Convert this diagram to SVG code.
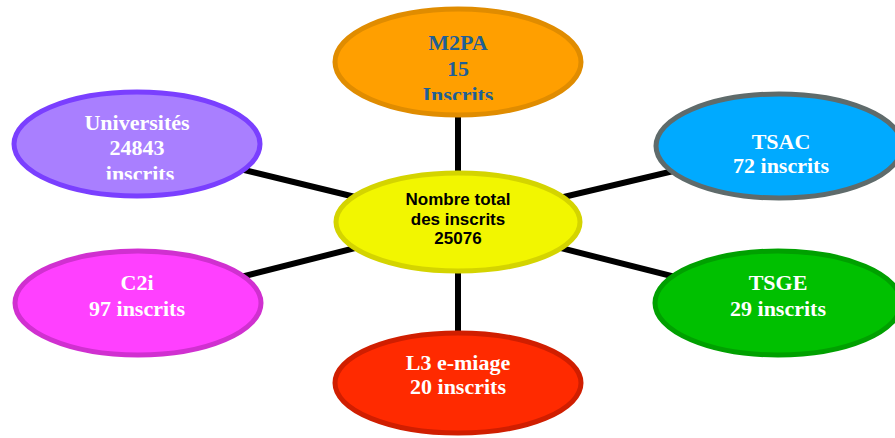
<svg xmlns="http://www.w3.org/2000/svg" width="895" height="438" viewBox="0 0 895 438">
<style>
.lbl{font-family:"Liberation Serif","Times New Roman",serif;font-weight:bold;font-size:22px;text-anchor:middle;fill:#ffffff}
.ctr{font-family:"Liberation Sans",Arial,sans-serif;font-weight:bold;font-size:17px;text-anchor:middle;fill:#000000}
.edge{stroke:#000;stroke-width:6;fill:none}
ellipse{stroke-width:5}
</style>
<defs>
<clipPath id="clipM2PA"><rect x="333" y="0" width="250" height="100"/></clipPath>
<clipPath id="clipUniv"><rect x="13" y="80" width="250" height="99.5"/></clipPath>
</defs>
<rect width="895" height="438" fill="#ffffff"/>
<g id="connectors">
<line class="edge" x1="458" y1="62" x2="458" y2="222"/>
<line class="edge" x1="458" y1="222" x2="458" y2="383"/>
<line class="edge" x1="137" y1="144" x2="458" y2="222"/>
<line class="edge" x1="779" y1="146" x2="458" y2="222"/>
<line class="edge" x1="138" y1="303" x2="458" y2="222"/>
<line class="edge" x1="778" y1="303" x2="458" y2="222"/>
</g>
<g id="m2pa">
<ellipse cx="458" cy="62" rx="123" ry="53" fill="#FF9F00" stroke="#E08C00"/>
<g clip-path="url(#clipM2PA)">
<text class="lbl" x="458" y="50" style="fill:#1F5F96">M2PA</text>
<text class="lbl" x="458" y="76" style="fill:#1F5F96">15</text>
<text class="lbl" x="458" y="102" style="fill:#1F5F96">Inscrits</text>
</g>
</g>
<g id="universites">
<ellipse cx="137" cy="144" rx="123" ry="52" fill="#A97FFF" stroke="#7A3FFF"/>
<g clip-path="url(#clipUniv)">
<text class="lbl" x="137" y="130">Universités</text>
<text class="lbl" x="137" y="155">24843</text>
<text class="lbl" x="140" y="181">inscrits</text>
</g>
</g>
<g id="tsac">
<ellipse cx="779" cy="146" rx="123" ry="52" fill="#00AAFF" stroke="#5F6B6B"/>
<text class="lbl" x="781" y="149">TSAC</text>
<text class="lbl" x="781" y="173">72 inscrits</text>
</g>
<g id="centre">
<ellipse cx="458" cy="222" rx="122" ry="49" fill="#F2F600" stroke="#D4D400"/>
<text class="ctr" x="458" y="205">Nombre total</text>
<text class="ctr" x="458" y="225">des inscrits</text>
<text class="ctr" x="458" y="244">25076</text>
</g>
<g id="c2i">
<ellipse cx="138" cy="303" rx="123" ry="52" fill="#FF40FF" stroke="#D030D0"/>
<text class="lbl" x="137" y="290">C2i</text>
<text class="lbl" x="137" y="316">97 inscrits</text>
</g>
<g id="l3">
<ellipse cx="458" cy="383" rx="123" ry="50" fill="#FF2A00" stroke="#D01E00"/>
<text class="lbl" x="458" y="370">L3 e-miage</text>
<text class="lbl" x="458" y="394">20 inscrits</text>
</g>
<g id="tsge">
<ellipse cx="778" cy="303" rx="123" ry="52" fill="#00C000" stroke="#00A000"/>
<text class="lbl" x="778" y="290">TSGE</text>
<text class="lbl" x="778" y="316">29 inscrits</text>
</g>
</svg>
